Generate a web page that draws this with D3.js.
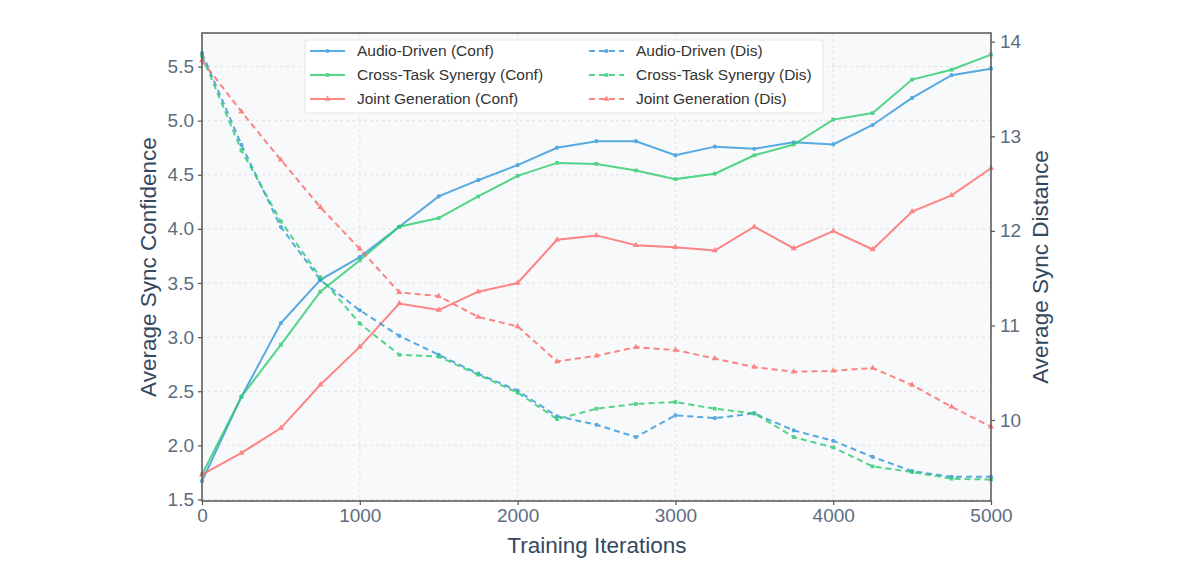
<!DOCTYPE html>
<html>
<head>
<meta charset="utf-8">
<script src="https://cdn.jsdelivr.net/npm/d3@7.9.0/dist/d3.min.js"></script>
<style>
  html, body { margin: 0; padding: 0; background: #fff; }
  svg { display: block; font-family: "Liberation Sans", Arial, sans-serif; }
</style>
</head>
<body>
<svg id="chart" width="1200" height="574"></svg>
<script>
// ── data ─────────────────────────────────────────────────────────
const iterations = d3.range(0, 5001, 250);

const audioConf = [1.67, 2.45, 3.13, 3.53, 3.74, 4.02, 4.30, 4.45, 4.59, 4.75, 4.81,
                   4.81, 4.68, 4.76, 4.74, 4.80, 4.78, 4.96, 5.21, 5.42, 5.48];
const crossConf = [1.73, 2.45, 2.93, 3.42, 3.71, 4.02, 4.10, 4.30, 4.49, 4.61, 4.60,
                   4.54, 4.46, 4.51, 4.68, 4.78, 5.01, 5.07, 5.38, 5.47, 5.61];
const jointConf = [1.73, 1.93, 2.16, 2.56, 2.91, 3.31, 3.25, 3.42, 3.50, 3.90, 3.94,
                   3.85, 3.83, 3.80, 4.02, 3.82, 3.98, 3.81, 4.16, 4.31, 4.56];

const audioDis  = [13.88, 12.91, 12.04, 11.48, 11.16, 10.89, 10.69, 10.49, 10.31, 10.04, 9.95,
                   9.82, 10.05, 10.02, 10.07, 9.89, 9.78, 9.61, 9.46, 9.40, 9.40];
const crossDis  = [13.85, 12.85, 12.10, 11.51, 11.02, 10.69, 10.67, 10.48, 10.29, 10.01, 10.12,
                   10.17, 10.19, 10.12, 10.07, 9.82, 9.71, 9.51, 9.45, 9.38, 9.37];
const jointDis  = [13.80, 13.26, 12.75, 12.25, 11.81, 11.35, 11.31, 11.09, 10.99, 10.62, 10.68,
                   10.77, 10.74, 10.65, 10.56, 10.51, 10.52, 10.55, 10.37, 10.14, 9.93];

const xTicks     = [0, 1000, 2000, 3000, 4000, 5000];
const leftTicks  = [1.5, 2.0, 2.5, 3.0, 3.5, 4.0, 4.5, 5.0, 5.5];
const rightTicks = [10, 11, 12, 13, 14];

const series = [
  { name: 'Audio-Driven (Conf)',       values: audioConf, axis: 'left',  color: '#3498db', dash: null,  marker: 'circle' },
  { name: 'Cross-Task Synergy (Conf)', values: crossConf, axis: 'left',  color: '#2ecc71', dash: null,  marker: 'square' },
  { name: 'Joint Generation (Conf)',   values: jointConf, axis: 'left',  color: '#ff6b6b', dash: null,  marker: 'triangle' },
  { name: 'Audio-Driven (Dis)',        values: audioDis,  axis: 'right', color: '#3498db', dash: '6,4', marker: 'circle' },
  { name: 'Cross-Task Synergy (Dis)',  values: crossDis,  axis: 'right', color: '#2ecc71', dash: '6,4', marker: 'square' },
  { name: 'Joint Generation (Dis)',    values: jointDis,  axis: 'right', color: '#ff6b6b', dash: '6,4', marker: 'triangle' }
];

// ── layout ───────────────────────────────────────────────────────
const svg = d3.select('#chart');
const m = { left: 202, right: 991, top: 33, bottom: 501 };

const x  = d3.scaleLinear().domain([0, 5000]).range([m.left, m.right]);
const yL = d3.scaleLinear().domain([1.486, 5.81]).range([m.bottom, m.top]);
const yR = d3.scaleLinear().domain([9.144, 14.092]).range([m.bottom, m.top]);

svg.append('rect')
   .attr('x', m.left).attr('y', m.top)
   .attr('width', m.right - m.left).attr('height', m.bottom - m.top)
   .attr('fill', '#f8f9fa');

// grid (left axis + x only)
const grid = svg.append('g').attr('stroke', '#d5d8dc').attr('stroke-width', 0.8)
                .attr('stroke-dasharray', '3,3').attr('opacity', 0.8);
grid.selectAll('.gx').data(xTicks).join('line')
    .attr('x1', d => x(d)).attr('x2', d => x(d))
    .attr('y1', m.top).attr('y2', m.bottom);
grid.selectAll('.gy').data(leftTicks).join('line')
    .attr('x1', m.left).attr('x2', m.right)
    .attr('y1', d => yL(d)).attr('y2', d => yL(d));

// lines + markers
const symbols = { circle: d3.symbolCircle, square: d3.symbolSquare, triangle: d3.symbolTriangle };
const symSize = { circle: 14, square: 14, triangle: 16 };

series.forEach(s => {
  const y = s.axis === 'left' ? yL : yR;
  const line = d3.line().x((d, i) => x(iterations[i])).y(d => y(d));
  const g = svg.append('g').attr('opacity', 0.82);
  g.append('path')
   .datum(s.values)
   .attr('d', line)
   .attr('fill', 'none')
   .attr('stroke', s.color)
   .attr('stroke-width', 2)
   .attr('stroke-dasharray', s.dash);
  g.selectAll('path.mk').data(s.values).join('path')
   .attr('class', 'mk')
   .attr('transform', (d, i) => `translate(${x(iterations[i])},${y(d)})`)
   .attr('d', d3.symbol(symbols[s.marker], symSize[s.marker]))
   .attr('fill', s.color);
});

// spines
svg.append('rect')
   .attr('x', m.left).attr('y', m.top)
   .attr('width', m.right - m.left).attr('height', m.bottom - m.top)
   .attr('fill', 'none').attr('stroke', '#555').attr('stroke-width', 1.5);

// axes
const tickColor = '#5d6d7e';
function styleAxis(g) {
  g.select('.domain').remove();
  g.selectAll('.tick line').attr('stroke', '#555').attr('stroke-width', 1.2);
  g.selectAll('.tick text').attr('fill', tickColor).style('font-size', '19px');
}
svg.append('g').attr('transform', `translate(0,${m.bottom})`)
   .call(d3.axisBottom(x).tickValues(xTicks).tickSize(4).tickPadding(4).tickFormat(d3.format('d')))
   .call(styleAxis);
svg.append('g').attr('transform', `translate(${m.left},0)`)
   .call(d3.axisLeft(yL).tickValues(leftTicks).tickSize(4).tickPadding(4).tickFormat(d3.format('.1f')))
   .call(styleAxis);
svg.append('g').attr('transform', `translate(${m.right},0)`)
   .call(d3.axisRight(yR).tickValues(rightTicks).tickSize(4).tickPadding(5).tickFormat(d3.format('d')))
   .call(styleAxis);

// axis titles
const titleColor = '#34495e';
svg.append('text')
   .attr('x', 597).attr('y', 553)
   .attr('text-anchor', 'middle').attr('fill', titleColor).style('font-size', '22.5px')
   .text('Training Iterations');
svg.append('text')
   .attr('transform', `translate(156,${(m.top + m.bottom) / 2}) rotate(-90)`)
   .attr('text-anchor', 'middle').attr('fill', titleColor).style('font-size', '22.5px')
   .text('Average Sync Confidence');
svg.append('text')
   .attr('transform', `translate(1048,${(m.top + m.bottom) / 2}) rotate(-90)`)
   .attr('text-anchor', 'middle').attr('fill', titleColor).style('font-size', '22.5px')
   .text('Average Sync Distance');

// legend
const lg = svg.append('g');
lg.append('rect')
  .attr('x', 305).attr('y', 40).attr('width', 518).attr('height', 73)
  .attr('rx', 3).attr('fill', '#fff').attr('fill-opacity', 0.9)
  .attr('stroke', '#e5e5e5');
series.forEach((s, i) => {
  const col = Math.floor(i / 3), row = i % 3;
  const lx = col === 0 ? 310 : 589;
  const ly = 51 + row * 24;
  const item = lg.append('g').attr('opacity', 0.82);
  item.append('line')
      .attr('x1', lx).attr('x2', lx + 35).attr('y1', ly).attr('y2', ly)
      .attr('stroke', s.color).attr('stroke-width', 2)
      .attr('stroke-dasharray', s.dash);
  item.append('path')
      .attr('transform', `translate(${lx + 17.5},${ly})`)
      .attr('d', d3.symbol(symbols[s.marker], symSize[s.marker]))
      .attr('fill', s.color);
  lg.append('text')
    .attr('x', lx + 47).attr('y', ly).attr('dy', '0.35em')
    .attr('fill', '#333').style('font-size', '15.5px')
    .text(s.name);
});
</script>
</body>
</html>
